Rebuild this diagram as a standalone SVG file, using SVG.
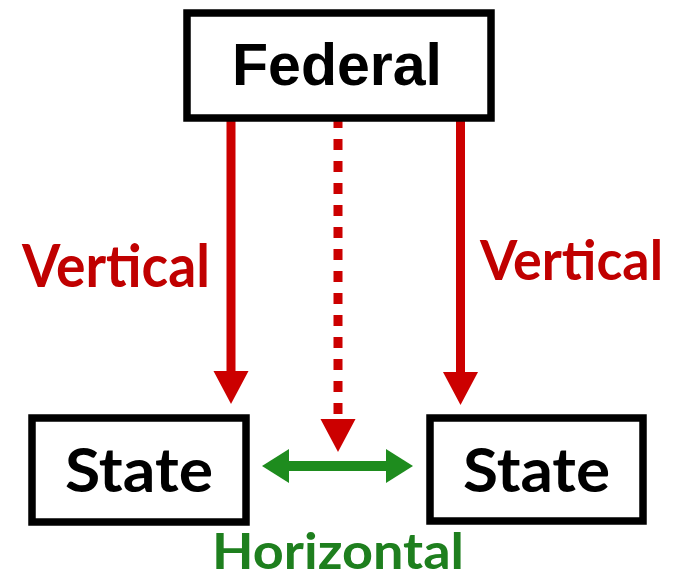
<svg xmlns="http://www.w3.org/2000/svg" width="680" height="581" viewBox="0 0 680 581">
  <style>
    .box { fill: #ffffff; stroke: #000000; stroke-width: 7.5; }
    .label { font-family: "Lato", "Liberation Sans", sans-serif; font-weight: bold; }
    .fed { font-family: "Liberation Sans", Arial, sans-serif; font-weight: bold; font-size: 60px; fill: #000; }
    .state { font-size: 62px; fill: #000; }
    .vert { font-size: 60px; fill: #c00000; }
    .horiz { font-size: 50px; fill: #1e7f1e; }
    .red { stroke: #cc0000; stroke-width: 9; fill: none; }
    .green { stroke: #1e8c1e; stroke-width: 10; fill: none; }
  </style>
  <defs>
    <marker id="redHead" markerUnits="userSpaceOnUse" markerWidth="34" markerHeight="36" refX="0" refY="17.5" orient="auto" overflow="visible">
      <path d="M0,0 L33,17.5 L0,35 Z" fill="#cc0000"/>
    </marker>
    <marker id="greenHead" markerUnits="userSpaceOnUse" markerWidth="28" markerHeight="36" refX="0" refY="17" orient="auto-start-reverse" overflow="visible">
      <path d="M0,0 L27,17 L0,34 Z" fill="#1e8c1e"/>
    </marker>
  </defs>

  <g id="connectors">
    <line class="red" x1="231" y1="120" x2="231" y2="371" marker-end="url(#redHead)"/>
    <line class="red" x1="460.5" y1="120" x2="460.5" y2="372" marker-end="url(#redHead)"/>
    <line class="red" x1="338" y1="117" x2="338" y2="419" stroke-width="11" stroke-dasharray="11 11" marker-end="url(#redHead)"/>
    <line class="green" x1="289" y1="466" x2="386" y2="466" marker-start="url(#greenHead)" marker-end="url(#greenHead)"/>
  </g>

  <g id="federal">
    <rect class="box" x="187" y="13" width="304" height="105"/>
    <text class="fed" x="337" y="85" text-anchor="middle" textLength="210" lengthAdjust="spacingAndGlyphs">Federal</text>
  </g>

  <g id="state-left">
    <rect class="box" x="32" y="418" width="214" height="104"/>
    <text class="label state" x="139" y="492" text-anchor="middle" textLength="148" lengthAdjust="spacingAndGlyphs">State</text>
  </g>

  <g id="state-right">
    <rect class="box" x="430" y="418" width="213" height="103"/>
    <text class="label state" x="536.5" y="492" text-anchor="middle" textLength="147" lengthAdjust="spacingAndGlyphs">State</text>
  </g>

  <g id="labels">
    <text class="label vert" x="22" y="287" textLength="188" lengthAdjust="spacingAndGlyphs">Vertical</text>
    <text class="label vert" x="480" y="280" style="font-size:56px" textLength="183" lengthAdjust="spacingAndGlyphs">Vertical</text>
    <text class="label horiz" x="338" y="569" text-anchor="middle" textLength="252" lengthAdjust="spacingAndGlyphs">Horizontal</text>
  </g>
</svg>
